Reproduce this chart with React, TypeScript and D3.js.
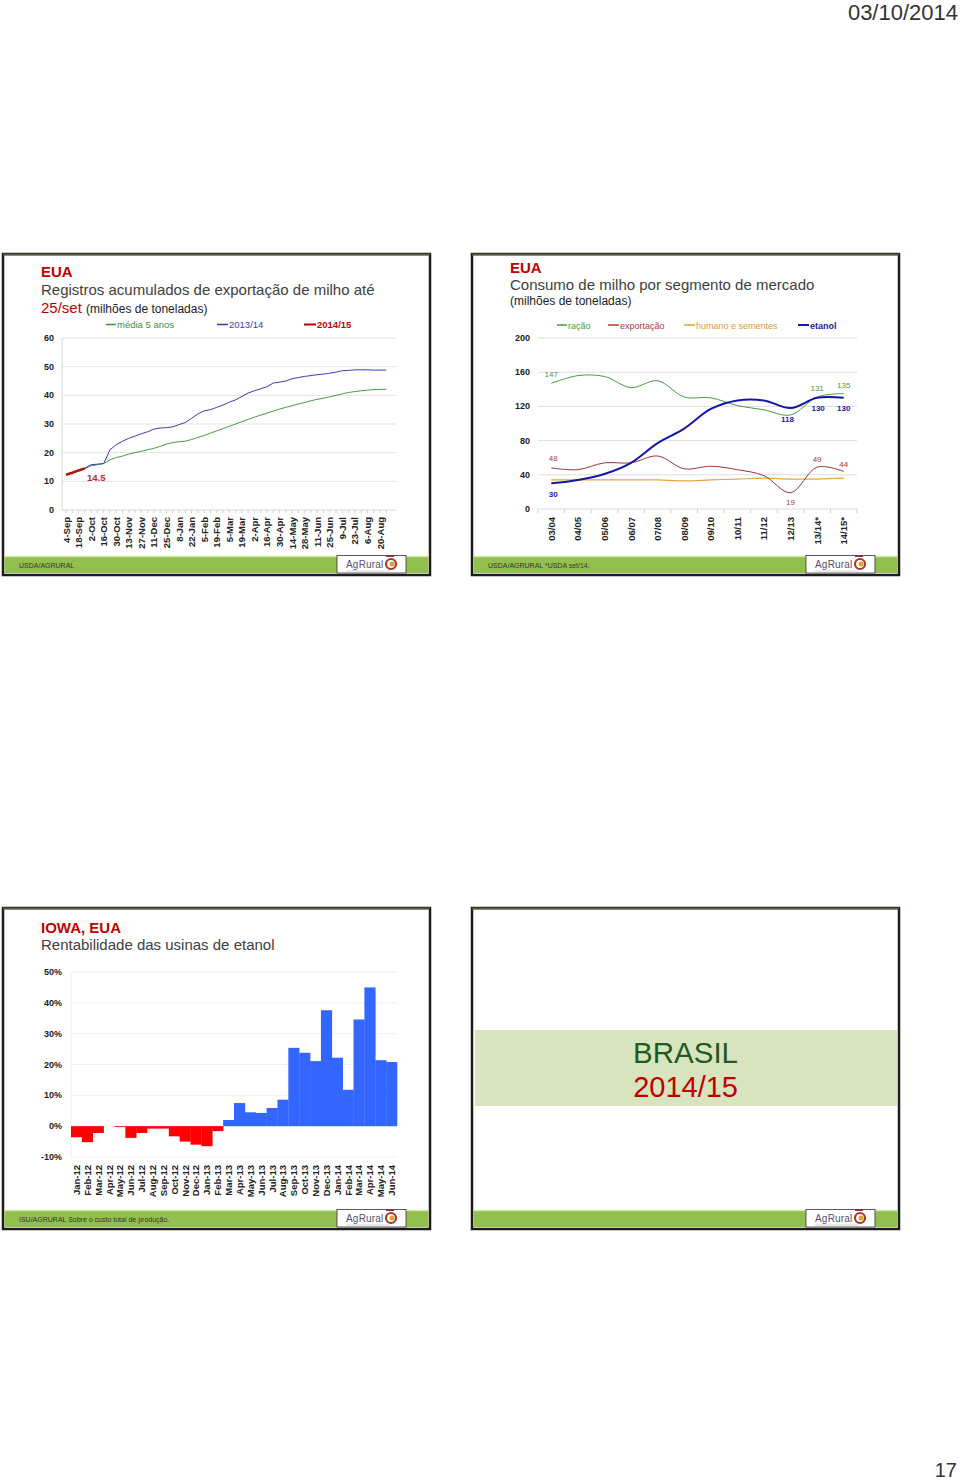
import React from 'react';
import * as d3 from 'd3';

const FONT = '"Liberation Sans", Arial, Helvetica, sans-serif';

// ---------- Chart 1: export registrations ----------
const weekTickLabels = ['4-Sep','18-Sep','2-Oct','16-Oct','30-Oct','13-Nov','27-Nov','11-Dec','25-Dec','8-Jan','22-Jan','5-Feb','19-Feb','5-Mar','19-Mar','2-Apr','16-Apr','30-Apr','14-May','28-May','11-Jun','25-Jun','9-Jul','23-Jul','6-Aug','20-Aug'];
const media5anos = [12.2,12.9,13.6,14.4,15.4,15.8,16.2,17.5,18.3,18.8,19.5,20.0,20.5,21.0,21.5,22.2,23.0,23.5,23.8,24.0,24.6,25.3,26.0,26.8,27.6,28.4,29.2,30.0,30.8,31.6,32.4,33.1,33.8,34.5,35.2,35.8,36.4,37.0,37.5,38.1,38.6,39.0,39.5,40.0,40.5,41.0,41.3,41.6,41.8,42.0,42.1,42.1];
const safra1314 = [12.3,13.0,13.8,14.6,15.8,16.0,16.2,21.0,22.8,24.0,25.0,25.8,26.6,27.3,28.2,28.6,28.7,29.0,29.8,30.5,32.0,33.5,34.6,35.0,35.8,36.6,37.6,38.4,39.6,40.8,41.6,42.3,43.0,44.3,44.6,45.0,45.8,46.2,46.6,46.9,47.2,47.4,47.7,48.1,48.6,48.7,48.9,48.9,48.9,48.8,48.8,48.8];
const safra1415 = [12.3,13.0,13.8,14.5];
const chart1YTicks = [0,10,20,30,40,50,60];

// ---------- Chart 2: consumption by segment ----------
const seasons = ['03/04','04/05','05/06','06/07','07/08','08/09','09/10','10/11','11/12','12/13','13/14*','14/15*'];
const racao = [147,156,155,142,150,131,130,121,116,110,131,135];
const exportacao = [48,46,54,54,62,47,50,46,39,19,49,44];
const humano = [34,34,34,34,34,33,34,35,36,35,35,36];
const etanol = [30,34,41,54,77,94,117,127,127,118,130,130];
const chart2YTicks = [0,40,80,120,160,200];

// ---------- Chart 3: Iowa ethanol profitability ----------
const months = ['Jan-12','Feb-12','Mar-12','Apr-12','May-12','Jun-12','Jul-12','Aug-12','Sep-12','Oct-12','Nov-12','Dec-12','Jan-13','Feb-13','Mar-13','Apr-13','May-13','Jun-13','Jul-13','Aug-13','Sep-13','Oct-13','Nov-13','Dec-13','Jan-14','Feb-14','Mar-14','Apr-14','May-14','Jun-14'];
const rentabilidade = [-3.6,-5.2,-2.2,0,-0.3,-3.8,-2.2,-0.8,-0.8,-3.3,-5.0,-6.0,-6.5,-1.6,2.0,7.5,4.5,4.3,5.9,8.6,25.4,23.8,21.1,37.6,22.2,11.8,34.6,45.0,21.4,20.8];
const chart3YTicks = [-10,0,10,20,30,40,50];

const RED = '#c00000';
const GREEN_BAND = '#93bf4f';

function Logo({ x, y }: { x: number; y: number }) {
  return (
    <g>
      <text x={x} y={y} fontFamily={FONT} fontSize={10} fill="#5b4e6e" letterSpacing={0.2}>AgRural</text>
      <path d={`M${x + 40},${y - 12} h8`} stroke="#8a3060" strokeWidth={2} />
      <circle cx={x + 45} cy={y - 4} r={5} fill="none" stroke="#a33a2a" strokeWidth={2.2} />
      <circle cx={x + 46} cy={y - 4} r={2.5} fill="#e0a030" />
      <path d={`M${x},${y + 3} h44`} stroke="#cfc7d6" strokeWidth={0.8} />
    </g>
  );
}

function SlideFrame({ x0, y0, x1, y1, footer, tabX, band = true }: any) {
  const by0 = y1 - 19;
  const by1 = y1 - 2;
  return (
    <g>
      <rect x={x0} y={y0} width={x1 - x0} height={y1 - y0} fill="#fff" stroke="#1c1c1c" strokeWidth={2.5} />
      <line x1={x0} x2={x1} y1={y0 + 0.5} y2={y0 + 0.5} stroke="#55583a" strokeWidth={2} />
      {band && (
        <g>
          <rect x={x0 + 1.5} y={by0} width={x1 - x0 - 3} height={by1 - by0} fill={GREEN_BAND} />
          <line x1={x0 + 1.5} x2={x1 - 1.5} y1={by0 + 0.5} y2={by0 + 0.5} stroke="#d2e6ad" strokeWidth={1.5} />
          <rect x={tabX} y={by0 - 0.5} width={69} height={by1 - by0 + 0.5} fill="#fff" stroke="#333" strokeWidth={0.8} />
          <Logo x={tabX + 9} y={by1 - 5} />
          <text x={x0 + 16} y={by1 - 5.5} fontFamily={FONT} fontSize={7} fill="#333">{footer}</text>
        </g>
      )}
    </g>
  );
}

function Chart1() {
  const y = d3.scaleLinear().domain([0, 60]).range([510, 338]);
  const x = d3.scaleLinear().domain([0, 51]).range([66, 386.3]);
  const line = d3.line<number>().x((_, i) => x(i)).y((d) => y(d));
  const left = 62, right = 396;
  return (
    <g fontFamily={FONT}>
      <text x={41} y={277} fontSize={15} fontWeight="bold" fill={RED}>EUA</text>
      <text x={41} y={295} fontSize={15} fill="#404040">Registros acumulados de exportação de milho até</text>
      <text x={41} y={313} fontSize={15} fill={RED}>25/set <tspan fontSize={12} fill="#222">(milhões de toneladas)</tspan></text>
      {/* legend */}
      <g fontSize={9.5}>
        <line x1={106} x2={116} y1={324.5} y2={324.5} stroke="#3f8f3f" strokeWidth={1.5} />
        <text x={117} y={328} fill="#3f8f3f">média 5 anos</text>
        <line x1={217} x2={228} y1={324.5} y2={324.5} stroke="#3b3bb0" strokeWidth={1.5} />
        <text x={229} y={328} fill="#3b3bb0">2013/14</text>
        <line x1={304} x2={316} y1={324.5} y2={324.5} stroke={RED} strokeWidth={2} />
        <text x={317} y={328} fill={RED} fontWeight="bold">2014/15</text>
      </g>
      {chart1YTicks.map((t) => (
        <g key={t}>
          {t > 0 && <line x1={left} x2={right} y1={y(t)} y2={y(t)} stroke="#e3e3e3" strokeWidth={1} />}
          <text x={54} y={y(t) + 3} fontSize={9} fontWeight="bold" textAnchor="end" fill="#222">{t}</text>
        </g>
      ))}
      <line x1={left} x2={left} y1={338} y2={510} stroke="#d8d8d8" />
      <line x1={left} x2={right} y1={510} y2={510} stroke="#d8d8d8" />
      {media5anos.map((_, i) => (
        <line key={i} x1={x(i)} x2={x(i)} y1={510} y2={513} stroke="#d0d0d0" />
      ))}
      <path d={line(media5anos) || ''} fill="none" stroke="#4a9a45" strokeWidth={1} />
      <path d={line(safra1314) || ''} fill="none" stroke="#3b3bb8" strokeWidth={1} />
      <path d={line(safra1415) || ''} fill="none" stroke="#b01515" strokeWidth={2.5} />
      <text x={87} y={481} fontSize={9.5} fontWeight="bold" fill="#c0282a">{safra1415[safra1415.length - 1]}</text>
      {weekTickLabels.map((l, i) => (
        <text key={l} transform={`translate(${x(i * 2) + 3.5},517) rotate(-90)`} textAnchor="end" fontSize={9.5} fontWeight="bold" fill="#222">{l}</text>
      ))}
    </g>
  );
}

function Chart2() {
  const y = d3.scaleLinear().domain([0, 200]).range([509, 338]);
  const x = d3.scaleBand<string>().domain(seasons).range([538, 857]);
  const cx = (i: number) => (x(seasons[i]) as number) + x.bandwidth() / 2;
  const line = d3.line<number>().x((_, i) => cx(i)).y((d) => y(d)).curve(d3.curveCatmullRom.alpha(0.5));
  const left = 538, right = 857;
  const lbl = (i: number, v: number, dx: number, dy: number, color: string, bold = false, key = '') => (
    <text key={key} x={cx(i) + dx} y={y(v) + dy} fontSize={8} fontWeight={bold ? 'bold' : 'normal'} fill={color} textAnchor="middle">{v}</text>
  );
  return (
    <g fontFamily={FONT}>
      <text x={510} y={273} fontSize={15} fontWeight="bold" fill={RED}>EUA</text>
      <text x={510} y={290} fontSize={15} fill="#404040">Consumo de milho por segmento de mercado</text>
      <text x={510} y={305} fontSize={12} fill="#222">(milhões de toneladas)</text>
      <g fontSize={9}>
        <line x1={557} x2={567} y1={325} y2={325} stroke="#4a9a45" strokeWidth={1.5} />
        <text x={568} y={328.5} fill="#4a9a45">ração</text>
        <line x1={608} x2={619} y1={325} y2={325} stroke="#b03a3a" strokeWidth={1.5} />
        <text x={620} y={328.5} fill="#b03a3a">exportação</text>
        <line x1={684} x2={695} y1={325} y2={325} stroke="#e0a040" strokeWidth={1.5} />
        <text x={696} y={328.5} fill="#d99a3a">humano e sementes</text>
        <line x1={798} x2={809} y1={325} y2={325} stroke="#1a1aa8" strokeWidth={2} />
        <text x={810} y={328.5} fill="#1a1aa8" fontWeight="bold">etanol</text>
      </g>
      {chart2YTicks.map((t) => (
        <g key={t}>
          <line x1={left} x2={right} y1={y(t)} y2={y(t)} stroke="#dedede" strokeWidth={1} />
          <text x={530} y={y(t) + 3} fontSize={9} fontWeight="bold" textAnchor="end" fill="#222">{t}</text>
        </g>
      ))}
      {seasons.concat(['']).map((_, i) => (
        <line key={i} x1={left + i * x.bandwidth()} x2={left + i * x.bandwidth()} y1={509} y2={513} stroke="#d0d0d0" />
      ))}
      <path d={line(humano) || ''} fill="none" stroke="#eaa53a" strokeWidth={1.2} />
      <path d={line(racao) || ''} fill="none" stroke="#4a9a45" strokeWidth={1} />
      <path d={line(exportacao) || ''} fill="none" stroke="#9e3434" strokeWidth={1} />
      <path d={line(etanol) || ''} fill="none" stroke="#1414a8" strokeWidth={2} />
      {lbl(0, racao[0], 0, -6, '#4a9a45', false, 'a')}
      {lbl(10, racao[10], 0, -6, '#4a9a45', false, 'b')}
      {lbl(11, racao[11], 0, -6, '#4a9a45', false, 'c')}
      {lbl(0, exportacao[0], 2, -7, '#b03a3a', false, 'd')}
      {lbl(10, exportacao[10], 0, -5, '#b03a3a', false, 'e')}
      {lbl(11, exportacao[11], 0, -4, '#b03a3a', false, 'f')}
      {lbl(9, exportacao[9], 0, 12, '#b03a3a', false, 'g')}
      {lbl(0, etanol[0], 2, 14, '#1a1aa8', true, 'h')}
      {lbl(9, etanol[9], -3, 14, '#1a1aa8', true, 'i')}
      {lbl(10, etanol[10], 1, 13, '#1a1aa8', true, 'j')}
      {lbl(11, etanol[11], 0, 13, '#1a1aa8', true, 'k')}
      {seasons.map((l) => (
        <text key={l} transform={`translate(${(x(l) as number) + x.bandwidth() / 2 + 3.5},517) rotate(-90)`} textAnchor="end" fontSize={9.5} fontWeight="bold" fill="#222">{l}</text>
      ))}
    </g>
  );
}

function Chart3() {
  const y = d3.scaleLinear().domain([-10, 50]).range([1157, 972]);
  const x = d3.scaleBand<string>().domain(months).range([71, 397]).padding(0);
  const left = 71, right = 397;
  return (
    <g fontFamily={FONT}>
      <text x={41} y={933} fontSize={15} fontWeight="bold" fill={RED}>IOWA, EUA</text>
      <text x={41} y={950} fontSize={15} fill="#404040">Rentabilidade das usinas de etanol</text>
      {chart3YTicks.map((t) => (
        <g key={t}>
          <line x1={left} x2={right} y1={y(t)} y2={y(t)} stroke="#f0f0f0" strokeWidth={1} />
          <text x={62} y={y(t) + 3} fontSize={9} fontWeight="bold" textAnchor="end" fill="#222">{t}%</text>
        </g>
      ))}
      <line x1={left} x2={left} y1={972} y2={1157} stroke="#eeeeee" />
      {rentabilidade.map((v, i) => (
        <rect key={months[i]} x={x(months[i]) as number} width={x.bandwidth() + 0.3} y={y(Math.max(0, v))} height={Math.abs(y(v) - y(0))} fill={v >= 0 ? '#3366ff' : '#ff0000'} />
      ))}
      {months.map((m) => (
        <text key={m} transform={`translate(${(x(m) as number) + x.bandwidth() / 2 + 3.5},1165) rotate(-90)`} textAnchor="end" fontSize={9.5} fontWeight="bold" fill="#222">{m}</text>
      ))}
    </g>
  );
}

export default function App() {
  return (
    <svg width={960} height={1483} viewBox="0 0 960 1483" style={{ position: 'absolute', left: 0, top: 0, background: '#fff' }}>
      <rect x={0} y={0} width={960} height={1483} fill="#fff" />
      <text x={958} y={20} textAnchor="end" fontFamily={FONT} fontSize={22} fill="#333">03/10/2014</text>
      <text x={957} y={1477} textAnchor="end" fontFamily={FONT} fontSize={20} fill="#333">17</text>

      <SlideFrame x0={3} y0={254} x1={430} y1={575} footer="USDA/AGRURAL" tabX={337} />
      <Chart1 />

      <SlideFrame x0={472} y0={254} x1={899} y1={575} footer="USDA/AGRURAL   *USDA set/14." tabX={806} />
      <Chart2 />

      <SlideFrame x0={3} y0={908} x1={430} y1={1229} footer="ISU/AGRURAL   Sobre o custo total de produção." tabX={337} />
      <Chart3 />

      <SlideFrame x0={472} y0={908} x1={899} y1={1229} footer="" tabX={806} />
      <rect x={475} y={1030} width={422} height={76} fill="#d8e4bd" />
      <text x={738} y={1063} textAnchor="end" fontFamily={FONT} fontSize={29.5} fill="#1f5a22">BRASIL</text>
      <text x={738} y={1097} textAnchor="end" fontFamily={FONT} fontSize={29} fill={RED}>2014/15</text>
    </svg>
  );
}
